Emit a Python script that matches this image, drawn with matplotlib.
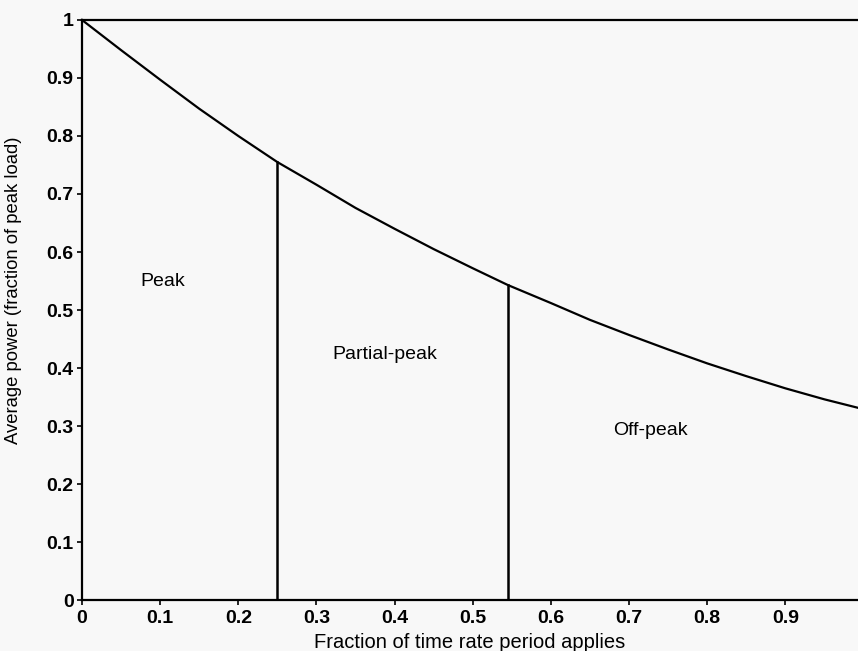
import numpy as np
import matplotlib.pyplot as plt

plt.rcParams['font.family'] = ['Liberation Sans', 'DejaVu Sans']

# curve
frac_time = [0, 0.05, 0.1, 0.15, 0.2, 0.25, 0.3, 0.35, 0.4, 0.45, 0.5, 0.545,
             0.6, 0.65, 0.7, 0.75, 0.8, 0.85, 0.9, 0.95, 1.0]
avg_power = [1.0, 0.948, 0.897, 0.847, 0.800, 0.755, 0.716, 0.676, 0.640, 0.605,
             0.572, 0.543, 0.512, 0.483, 0.457, 0.432, 0.408, 0.386, 0.365, 0.346, 0.329]

# boundaries between rate periods
bounds_x = [0.25, 0.545]
bounds_y = [0.755, 0.543]

region_names = ['Peak', 'Partial-peak', 'Off-peak']
region_x = [0.103, 0.388, 0.728]
region_y = [0.55, 0.424, 0.293]

xticks = [0, 0.1, 0.2, 0.3, 0.4, 0.5, 0.6, 0.7, 0.8, 0.9]
xtick_labels = ['0', '0.1', '0.2', '0.3', '0.4', '0.5', '0.6', '0.7', '0.8', '0.9']
yticks = [0, 0.1, 0.2, 0.3, 0.4, 0.5, 0.6, 0.7, 0.8, 0.9, 1]
ytick_labels = ['0', '0.1', '0.2', '0.3', '0.4', '0.5', '0.6', '0.7', '0.8', '0.9', '1']

bg = '#f8f8f8'
fig = plt.figure(figsize=(8.58, 6.51), dpi=100, facecolor=bg)
ax = fig.add_axes([0.0956, 0.0783, 0.9044, 0.891])
ax.set_facecolor(bg)

ax.plot(frac_time, avg_power, color='black', lw=1.6, clip_on=False)
for bx, by in zip(bounds_x, bounds_y):
    ax.plot([bx, bx], [0, by], color='black', lw=1.8)

for name, tx, ty in zip(region_names, region_x, region_y):
    ax.text(tx, ty, name, ha='center', va='center', fontsize=14)

ax.set_xlim(0, 0.993)
ax.set_ylim(0, 1)
ax.spines['right'].set_visible(False)
for s in ['top', 'left', 'bottom']:
    ax.spines[s].set_linewidth(1.6)

ax.set_xticks(xticks)
ax.set_xticklabels(xtick_labels, fontweight='bold')
ax.set_yticks(yticks)
ax.set_yticklabels(ytick_labels, fontweight='bold')
ax.tick_params(axis='both', labelsize=14, length=3.5, width=1.2)
ax.tick_params(axis='x', pad=4)
ax.tick_params(axis='y', pad=2.5)

ax.set_xlabel('Fraction of time rate period applies', fontsize=14.5)
ax.set_ylabel('Average power (fraction of peak load)', fontsize=13.3)
ax.xaxis.set_label_coords(0.5, -0.056)
ax.yaxis.set_label_coords(-0.077, 0.534)

fig.savefig('out.png', dpi=100, facecolor=bg)
